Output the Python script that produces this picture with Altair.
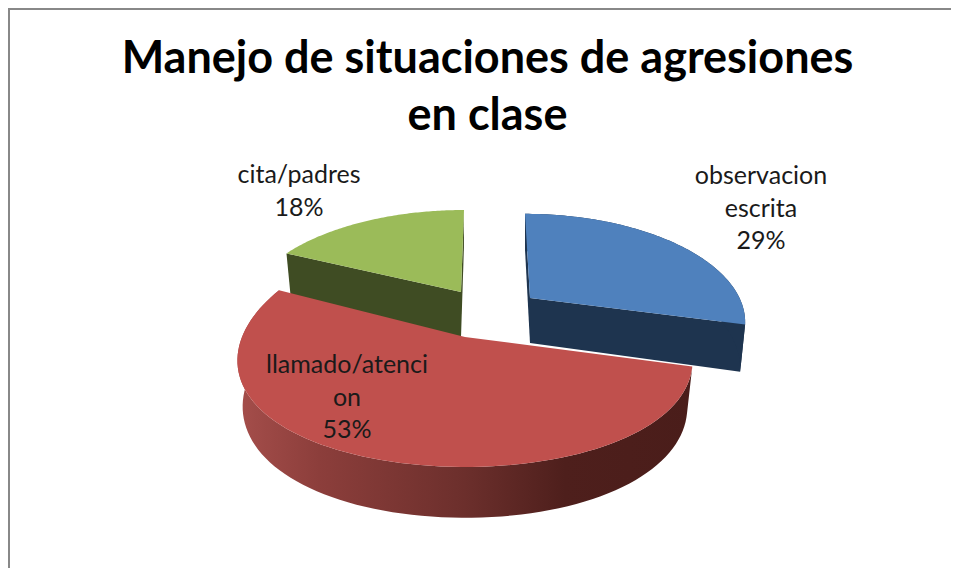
import math
import altair as alt

# ---- values
CATEGORIES = ["observacion escrita", "llamado/atencion", "cita/padres"]
SHARES = [29, 53, 18]
TITLE_LINES = ["Manejo de situaciones de agresiones", "en clase"]
LABEL_LINES = [
    ["observacion", "escrita", "29%"],
    ["llamado/atenci", "on", "53%"],
    ["cita/padres", "18%"],
]

# ---- styling / view geometry of the 3-D pie (in page pixels)
TOP_COLORS = ["#4F81BD", "#C0504D", "#9BBB59"]
WALL_COLORS = ["#1E344F", None, "#3F4C23"]
VIEW = [  # apex x, apex y, F, G, perspective k, shear s
    (530, 298, 209.5, 101, 0.20, -6),
    (465, 337, 223, 115, 0.115, 0),
    (461, 292, 211, 98.4, 0.20, 3.6),
]
KX = 0.20
DEPTH = 45
BOTTOM_SHRINK = 0.977
LABEL_XY = [(761, 176), (347, 365), (299, 175)]
FONT = "Lato"
W, H = 943, 560


def bounds():
    out, acc = [], 0
    for s in SHARES:
        out.append((acc / 100 * 2 * math.pi, (acc + s) / 100 * 2 * math.pi))
        acc += s
    return out


def top_pt(i, t):
    cx, cy, F, G, k, s = VIEW[i]
    z = math.cos(t)
    return (cx + (F * math.sin(t) + s * z) / (1 + KX * z), cy - G * z / (1 + k * z))


def low_pt(i, t):
    cx, cy, F, G, k, s = VIEW[i]
    x, y = top_pt(i, t)
    z = math.cos(t)
    return (cx + BOTTOM_SHRINK * (x - cx), y + DEPTH / (1 + k * z))


def arc(i, a, b, fn, n=90):
    return [fn(i, a + (b - a) * j / n) for j in range(n + 1)]


def feature(points):
    ring = [list(p) for p in points]
    ring.append(ring[0])
    return {"type": "Feature", "properties": {}, "geometry": {"type": "Polygon", "coordinates": [ring]}}


def shape(features, fill):
    return alt.Chart(alt.Data(values=features)).mark_geoshape(fill=fill, stroke=None, strokeWidth=0)


B = bounds()
layers = []


def apex(i):
    return (VIEW[i][0], VIEW[i][1])


def low_apex(i):
    return (VIEW[i][0], VIEW[i][1] + DEPTH)


def radial_wall(i, t):
    return feature([apex(i), top_pt(i, t), low_pt(i, t), low_apex(i)])


# blue slice
a, b = B[0]
layers.append(shape([radial_wall(0, a), radial_wall(0, b),
                     feature(arc(0, a, b, top_pt) + arc(0, a, b, low_pt)[::-1])], WALL_COLORS[0]))
layers.append(shape([feature([apex(0)] + arc(0, a, b, top_pt))], TOP_COLORS[0]))

# green slice
a, b = B[2]
layers.append(shape([radial_wall(2, a), radial_wall(2, b)], WALL_COLORS[2]))
layers.append(shape([feature([apex(2)] + arc(2, a, b, top_pt))], TOP_COLORS[2]))

# red slice, its outer wall shaded from left to right
a, b = B[1]
red_wall = alt.Gradient(
    gradient="linear", x1=0, x2=1, y1=0, y2=0,
    stops=[
        alt.GradientStop(offset=0.0, color="#A54E4B"),
        alt.GradientStop(offset=0.18, color="#8C3E3B"),
        alt.GradientStop(offset=0.5, color="#6C2F2C"),
        alt.GradientStop(offset=0.72, color="#4E1F1C"),
        alt.GradientStop(offset=1.0, color="#4A1D1A"),
    ],
)
layers.append(shape([feature(arc(1, a, b, top_pt) + arc(1, a, b, low_pt)[::-1])], red_wall))
layers.append(shape([feature([apex(1)] + arc(1, a, b, top_pt))], TOP_COLORS[1]))

geo = alt.layer(*layers).project(type="identity", scale=1, translate=[-8, -8])

# chart frame
frame_top = alt.Chart(alt.Data(values=[{}])).mark_rule(color="#888888", strokeWidth=2).encode(
    x=alt.value(0), x2=alt.value(W), y=alt.value(1))
frame_left = alt.Chart(alt.Data(values=[{}])).mark_rule(color="#888888", strokeWidth=2).encode(
    x=alt.value(1), y=alt.value(0), y2=alt.value(H))

# data labels
texts = []
for lines, (lx, ly) in zip(LABEL_LINES, LABEL_XY):
    texts.append(
        alt.Chart(alt.Data(values=[{"t": lines}])).mark_text(
            font=FONT, fontSize=25, color="#1A1A1A", align="center", baseline="middle", lineHeight=32.5
        ).encode(text="t:N", x=alt.value(lx - 8), y=alt.value(ly - 8))
    )

chart = alt.layer(geo, frame_top, frame_left, *texts).properties(
    width=W, height=H, padding=0, autosize="none", background="#FFFFFF",
    title=alt.TitleParams(
        text=TITLE_LINES, font=FONT, fontSize=45, fontWeight="bold", color="#000000",
        anchor="middle", baseline="top", offset=0, dx=8, dy=132, lineHeight=57,
    ),
).configure_view(stroke=None)

chart.save("out.html", embed_options={"renderer": "svg", "actions": False})
